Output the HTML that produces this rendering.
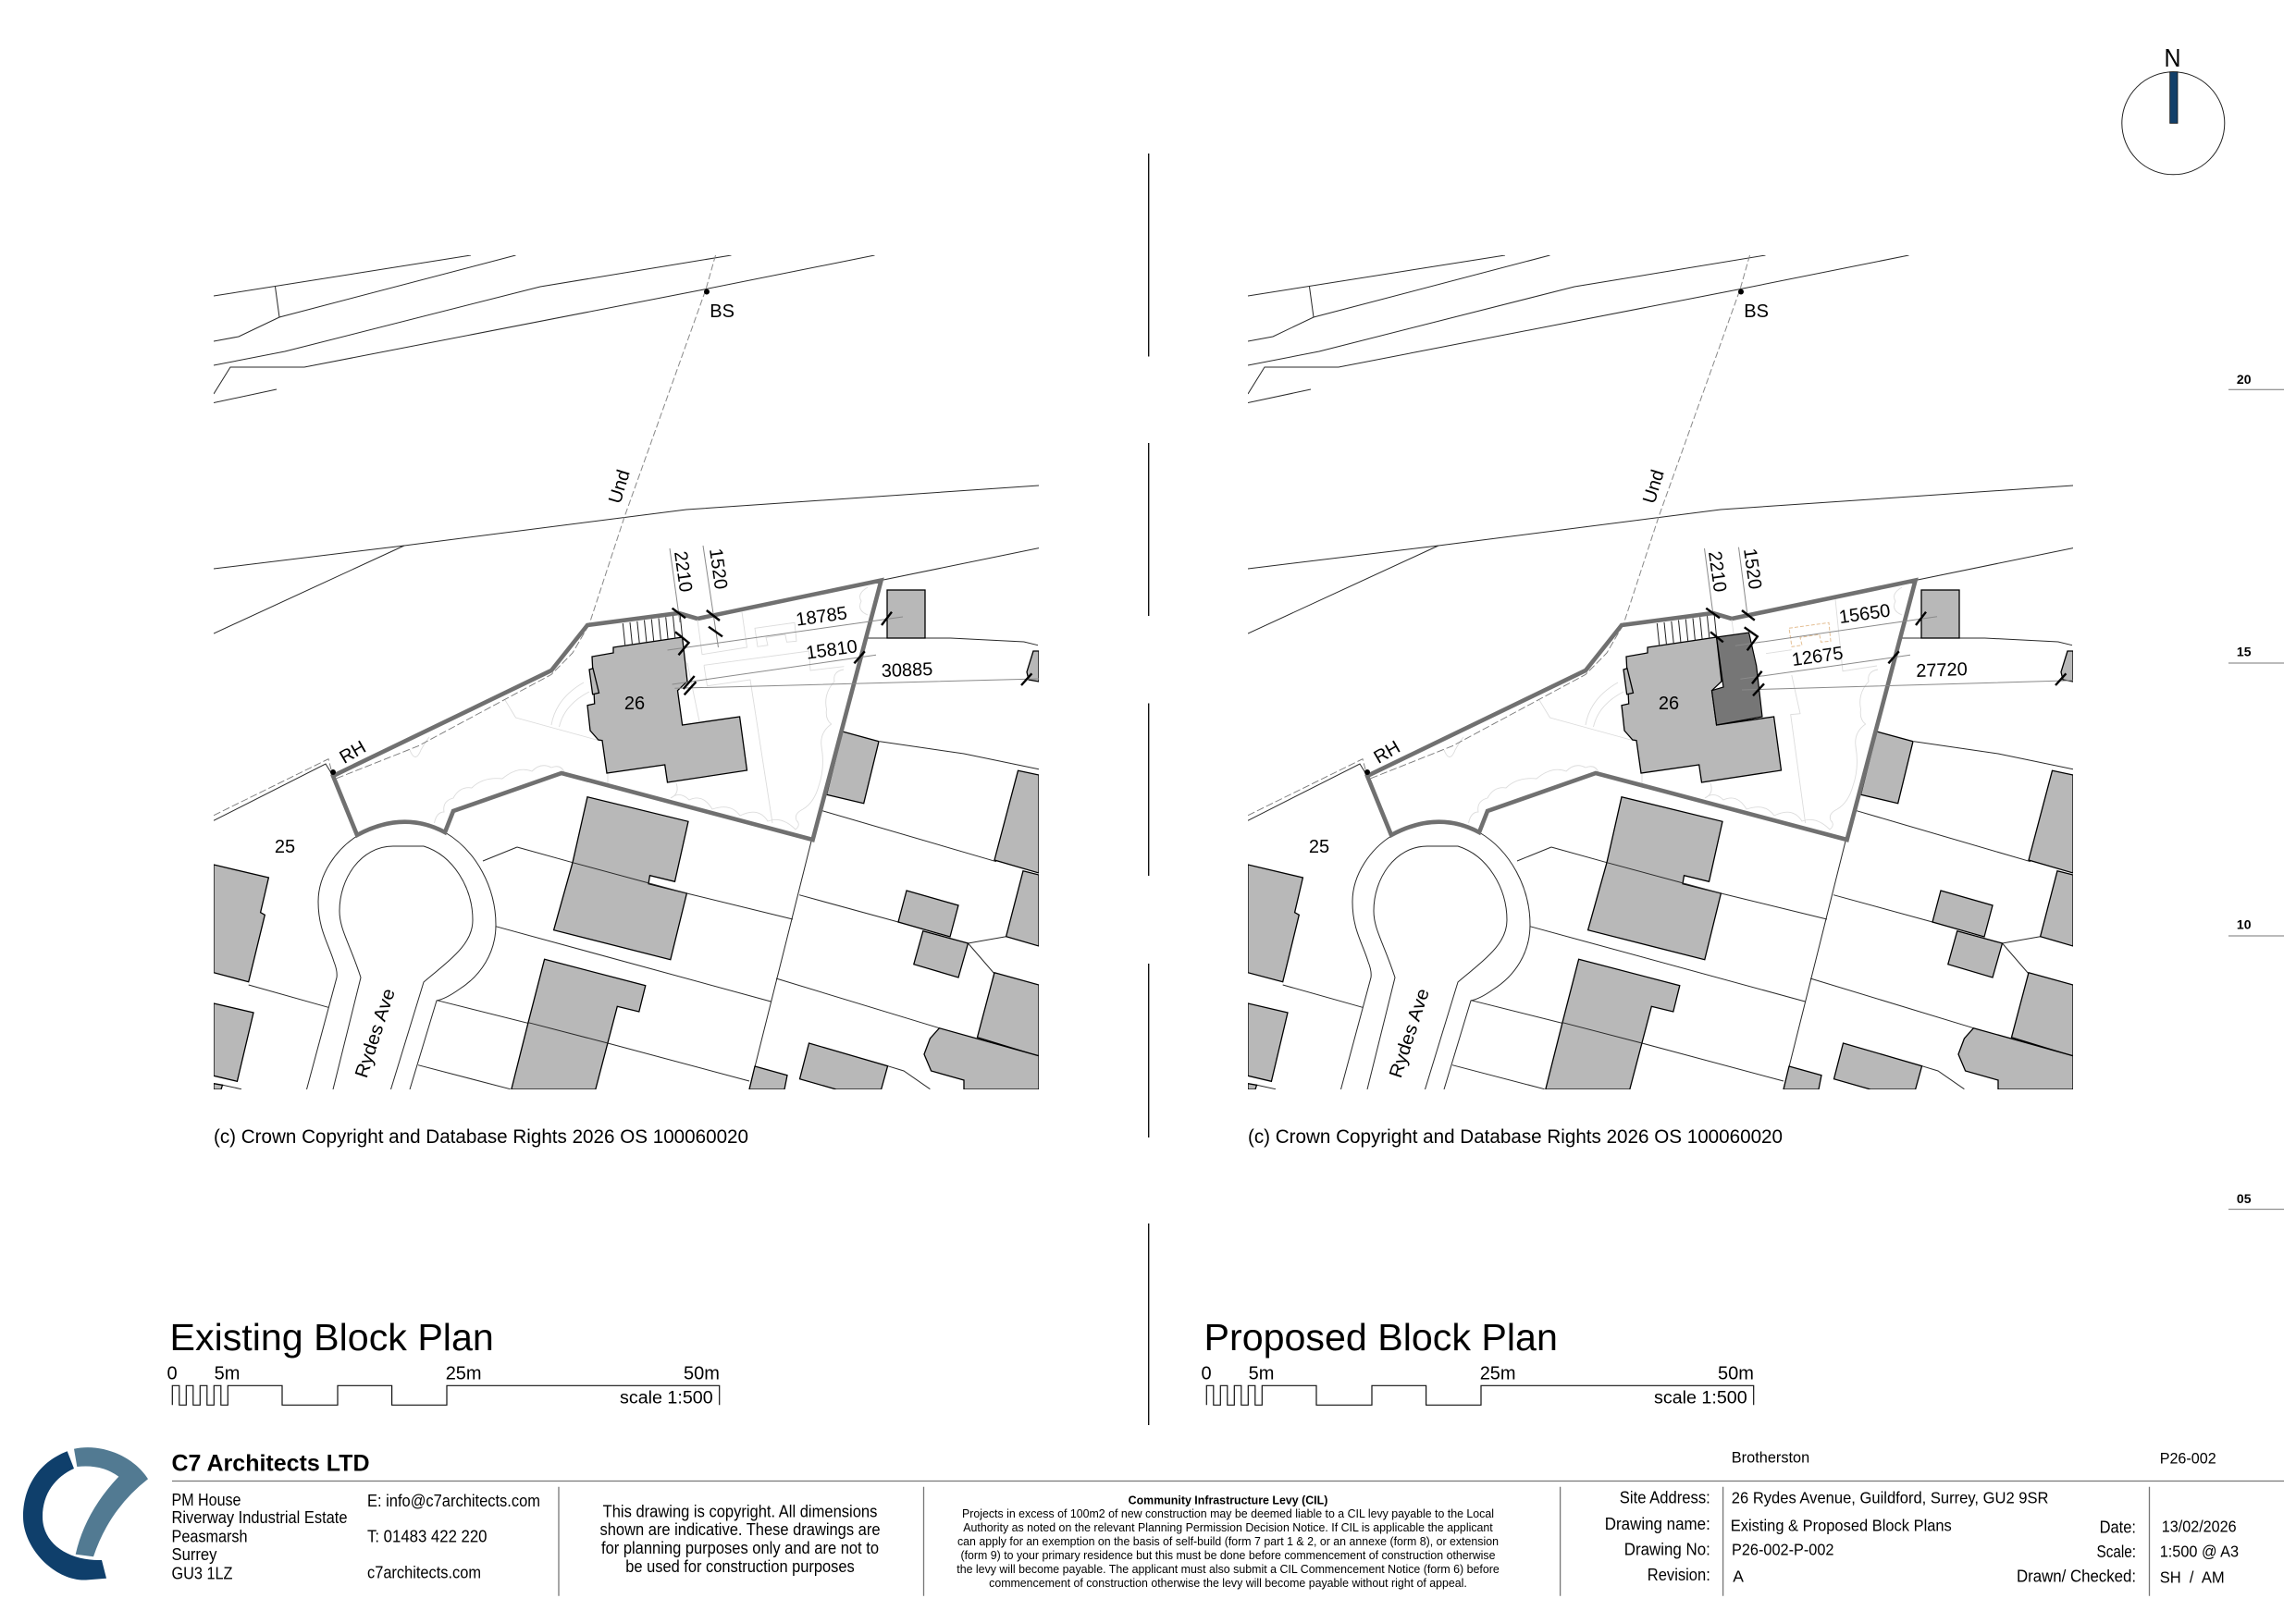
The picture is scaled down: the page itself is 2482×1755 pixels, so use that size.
<!DOCTYPE html>
<html><head><meta charset="utf-8"><title>Existing &amp; Proposed Block Plans</title>
<style>
html,body{margin:0;padding:0;background:#fff}
svg{display:block;position:absolute;left:0;top:0}
text{font-family:"Liberation Sans",Arial,sans-serif;fill:#000}
.th{fill:none;stroke:#2a2a2a;stroke-width:1}
.fa{fill:none;stroke:#dcdcdc;stroke-width:.9}
.bd{fill:#b8b8b8;stroke:#000;stroke-width:1.3}
.dim{fill:none;stroke:#8a8a8a;stroke-width:1}
.tk{fill:none;stroke:#000;stroke-width:2.4}
.m{font-size:20px;text-anchor:middle}
.rule{stroke:#777;stroke-width:1.3;fill:none}
</style></head><body>
<svg width="2482" height="1755" viewBox="0 0 2482 1755" xmlns="http://www.w3.org/2000/svg">
<rect width="2482" height="1755" fill="#fff"/>
<defs><clipPath id="mapclip"><rect x="231" y="276" width="892" height="902"/></clipPath></defs>

<g id="base"><g clip-path="url(#mapclip)">
 <path class="fa" d="M596,784Q601,755 631,738M604.5,786Q610,762 637,748M546,757L557.5,776L648.5,801M443,811Q449,826 455,811Q460,802 464,797"/>
 <path class="fa" d="M469.5,890Q472,878 480,878Q478,866 490,863Q497,850 510,852Q522,840 543,842Q560,828 575,834Q585,824 596,830Q606,826 610,835"/>
 <path class="fa" d="M657,835L657,848M731,847Q735,858 725,863Q735,855 745,865Q760,858 770,875Q790,868 800,882Q820,872 830,888Q845,882 860,897"/>
 <path class="fa" d="M938,635Q926,642 931,650Q926,660 938,665M912,724Q900,726 902,737Q890,750 893.5,767Q892,778 898.6,783Q886,792 888,807Q892,830 885,850Q880,868 868,875Q858,880 861,887Q866,892 860,897"/>
 <path class="fa" d="M743,717L756,780"/>
 <path class="th" d="M231,320L509,276M297.5,310L302,343M231,369L258,364L302,343L557.5,276M231,395L308,380L584,310L790.5,276M231,426L249,397L329,397L761,313L945.5,276M231,435.5L299,421"/>
 <path class="th" d="M231,615L437,590L742,551L1123,525M231,685L437,590M952.6,627.5L1123,592.6"/>
 <path fill="none" stroke="#888" stroke-width="1" stroke-dasharray="7 3" d="M773.5,276L763,313L675,559L637,675"/>
 <path fill="none" stroke="#777" stroke-width=".9" stroke-dasharray="8 3" d="M231,881.7L355,820.7L358,832M363.8,841.7L452,806.7L596,729.4L619,706L637,675"/>
 <path class="th" d="M231,887.3L352,826L360,839"/>
 <path class="th" d="M936.5,690L1027.6,690L1106.8,694L1122,697.7"/>
 <path class="th" d="M951,801.7L1042,815L1123,831.7M889,876.7L1077,931.7M864,967.7L971,997M1046.5,1020L1087.6,1012.7M1046.5,1020L1075,1053M959.6,1152.7L977,1158L1005.4,1177.7M877.4,908L810,1177.7M857,994L742.4,966M833.4,1083L535.8,1001.7M810,1169L657,1128L472.4,1081.7M839,1058L1015.4,1111.7M559,916L522,931M559,916L619,932.7M551.7,1177.7L452,1151.7M268.7,1065L355,1089.3M240.5,1173.3L261,1177.7M864.5,1166.7L904,1177.7"/>
 <path class="th" d="M386,904C364,918 344,945 344,975C344,1005 355,1020 361,1040Q365,1050 364,1057L331.5,1178"/>
 <path class="th" d="M481,900C515,920 536,960 536,1000C536,1030 520,1055 496,1070Q482,1080 472,1082L443,1178"/>
 <path class="th" d="M360,1178L390,1057C378,1020 367,1005 367,985C367,950 390,915 425,915L458,915C490,925 511,960 511,995C511,1020 490,1035 458,1062L422.5,1178"/>
 <path class="bd" d="M663,700L737.6,689L743,736.7L732.5,746.7L737.6,784L799.6,775L807.5,833L721.5,846L718.7,827L656,836L651,800.7L646.8,800L638,790L635,762.7L642.7,761L640,710L663,706Z"/>
 <path class="bd" d="M637,724L641,722.7L647.5,749.3L640.6,750.7Z"/>
 <rect class="bd" x="959" y="638" width="41" height="52"/>
 <path class="bd" d="M1117,704L1110,726.7L1112,735L1123,737L1123,704Z"/>
 <path class="bd" d="M910.7,791L950,801.7L933.7,868.7L893.5,859.3Z"/>
 <path class="bd" d="M1100.5,833.3L1123,838L1123,944L1075,930Z"/>
 <path class="bd" d="M1106,941.7L1123,946L1123,1023L1087.6,1012.7Z"/>
 <path class="bd" d="M980,963L1036,979L1027,1013L971,997Z"/>
 <path class="bd" d="M997.8,1006.7L1046.5,1020L1036,1057L987.8,1042.7Z"/>
 <path class="bd" d="M1075,1051.7L1123,1065L1123,1142L1056.5,1121.7Z"/>
 <path class="bd" d="M1015.4,1111.7L1123,1141.7L1123,1178L1042,1178L1042,1168L1006.6,1158L999,1140L1005.4,1123Z"/>
 <path class="bd" d="M874.5,1128L959.6,1152.7L952.6,1178L904,1178L864.5,1166.7Z"/>
 <path class="bd" d="M816,1153L851,1162.7L848,1178L810,1178Z"/>
 <path class="bd" d="M635,861.7L744,888.3L729.5,953.3L702.5,946.7L701,955.7L742.4,966L724.8,1037.7L598.6,1005.7L619,932.7Z"/>
 <path class="th" d="M619,932.7L742.4,966"/>
 <path class="bd" d="M588.6,1037.3L697.8,1065.7L690.8,1094L667.3,1088.3L643.8,1178L552.8,1178L571,1105.7Z"/>
 <path class="th" d="M571,1105.7L657,1128"/>
 <path class="bd" d="M231,935L290.4,949L281.6,986.7L286.3,989.3L268.7,1061.7L231,1051.7Z"/>
 <path class="bd" d="M231,1085L274,1095L256.4,1169.3L231,1163.3Z"/>
 <path class="bd" d="M231,1171.7L240.5,1173.3L239,1178L231,1178Z"/>
 <path fill="none" stroke="#222" stroke-width="1" d="M673.3,674L675.7,697.3M681,672.9L683.4,696.3M688.8,671.8L691.2,695.3M696.5,670.6L698.9,694.3M704.3,669.5L706.7,693.3M712,668.4L714.4,692.3M719.7,667.3L722.1,691.3M727.5,666.1L729.9,690.3M735.2,665L737.6,689"/>
 <path fill="none" stroke="#707070" stroke-width="4.6" stroke-linejoin="miter" d="M635,676L733.6,663L754,669L952.6,627.5L878.6,908L607,836L490,877L481,900Q436,876 386,903L360,839L596,725Z"/>
 <circle cx="764" cy="315.5" r="3" fill="#000"/>
 <circle cx="360" cy="835" r="3" fill="#000"/>
</g></g>
<use href="#base" x="1118"/>

<g>
 <path class="fa" d="M754,670L759,707.7L807.5,700L802,661.7M816,679.3L859,673.3L861,693.3L850.5,694.3L848.8,686L828,689.3L830,697.7L819,699.3ZM761,719.3L874.6,704L876,725L912.4,720.7M761,719.3L764.5,741.7L811,735L835,890"/>
 <path class="dim" d="M724,593L735,673M760,590L776.5,700M721.5,703L976,667M726.6,740L947,708.3M729.4,744.3L1123,734"/>
 <path class="tk" d="M726.6,657.7L741,668.3M763.8,660L778,671M766,677.7L781,688.3M730,683.3L744.5,695L733.5,708.3M750.7,731L738.7,745M752.4,737.3L739.7,751.3M964,661.7L953,676M934.8,704.3L923.4,717.3M1115.4,728.3L1104,741"/>
 <text class="m" transform="translate(780.6,336)" dy=".35em">BS</text>
 <text class="m" transform="translate(669,526) rotate(-73)" dy=".35em">Und</text>
 <text class="m" transform="translate(381,813) rotate(-30)" dy=".35em">RH</text>
 <text class="m" transform="translate(308,915)" dy=".35em">25</text>
 <text class="m" transform="translate(686,760)" dy=".35em">26</text>
 <text class="m" transform="translate(405,1117) rotate(-72)" dy=".35em" textLength="100" lengthAdjust="spacingAndGlyphs">Rydes Ave</text>
 <text class="m" transform="translate(888,666) rotate(-8)" dy=".35em">18785</text>
 <text class="m" transform="translate(899,702) rotate(-8)" dy=".35em">15810</text>
 <text class="m" transform="translate(980.5,724) rotate(-2)" dy=".35em">30885</text>
 <text class="m" transform="translate(739,618) rotate(82)" dy=".35em">2210</text>
 <text class="m" transform="translate(777,615) rotate(82)" dy=".35em">1520</text>
</g>

<g transform="translate(1118,0)">
 <path class="fa" d="M754,670L759,707.7M791,706.7L818.8,702.7M866,648L874,725.7L911,720M818.8,730L828,771.7L817.7,772.7L833.6,890"/>
 <path fill="none" stroke="#e4bf94" stroke-width="1" stroke-dasharray="4 2" d="M816,679.3L859,673.3L861,693.3L850.5,694.3L848.8,686L828,689.3L830,697.7L819,699.3Z"/>
 <path fill="#767676" stroke="#000" stroke-width="1.2" d="M737.6,689L772.6,684L780.7,720L787,775L737.6,784L732.5,746.7L745,743Z"/>
 <path class="dim" d="M724.5,593L733.7,663M761.5,591.7L770.7,663M757.8,698.3L976,666.7M763.3,734.3L947,708.3M765,746L1123,735.8"/>
 <path class="tk" d="M726.3,657.7L741,668.3M765,660L778.8,670.7M767.7,678.3L781.8,688.3L770.7,703.3M731,683.3L744.8,694.3M786.6,725.7L776,739.3M789,739.3L777,752.3M964,661.7L953,676M934.8,704.3L923.4,717.3M1115.4,728.3L1104,741"/>
 <text class="m" transform="translate(780.6,336)" dy=".35em">BS</text>
 <text class="m" transform="translate(669,526) rotate(-73)" dy=".35em">Und</text>
 <text class="m" transform="translate(381,813) rotate(-30)" dy=".35em">RH</text>
 <text class="m" transform="translate(308,915)" dy=".35em">25</text>
 <text class="m" transform="translate(686,760)" dy=".35em">26</text>
 <text class="m" transform="translate(405,1117) rotate(-72)" dy=".35em" textLength="100" lengthAdjust="spacingAndGlyphs">Rydes Ave</text>
 <text class="m" transform="translate(897.6,663.3) rotate(-8)" dy=".35em">15650</text>
 <text class="m" transform="translate(846.6,709.3) rotate(-8)" dy=".35em">12675</text>
 <text class="m" transform="translate(981,724) rotate(-2)" dy=".35em">27720</text>
 <text class="m" transform="translate(739,618) rotate(82)" dy=".35em">2210</text>
 <text class="m" transform="translate(777,615) rotate(82)" dy=".35em">1520</text>
</g>

<text x="231" y="1236" font-size="21.3" textLength="578" lengthAdjust="spacingAndGlyphs">(c) Crown Copyright and Database Rights 2026 OS 100060020</text>
<text x="1349" y="1236" font-size="21.3" textLength="578" lengthAdjust="spacingAndGlyphs">(c) Crown Copyright and Database Rights 2026 OS 100060020</text>

<path stroke="#111" stroke-width="1.4" fill="none" d="M1241.7,166V385.5M1241.7,479V666M1241.7,760.5V947M1241.7,1042V1230M1241.7,1323V1541"/>

<text x="183.5" y="1460" font-size="41.2">Existing Block Plan</text>
<text x="1301.5" y="1460" font-size="41.2">Proposed Block Plan</text>
<g id="sb">
 <path fill="none" stroke="#111" stroke-width="1.2" d="M186.3,1519.3V1498.3H193.8V1519.3H201.3V1498.3H208.8V1519.3H216.3V1498.3H223.8V1519.3H231.3V1498.3H238.8V1519.3H246.3V1498.3H305V1519.3H365V1498.3H423.6V1519.3H483V1498.3H777.7V1519.3"/>
 <text x="186" y="1491.7" font-size="20" text-anchor="middle">0</text>
 <text x="231.6" y="1491.7" font-size="20">5m</text>
 <text x="481.7" y="1491.7" font-size="20">25m</text>
 <text x="739" y="1491.7" font-size="20">50m</text>
 <text x="670" y="1517.7" font-size="19.7">scale 1:500</text>
</g>
<use href="#sb" x="1118"/>

<circle cx="2349.3" cy="133.3" r="55.5" fill="#fff" stroke="#222" stroke-width="1"/>
<rect x="2345.7" y="77.7" width="8.3" height="55.6" fill="#123f69" stroke="#111" stroke-width=".8"/>
<text x="2339.5" y="72" font-size="28" textLength="18" lengthAdjust="spacingAndGlyphs">N</text>

<g font-size="14" font-weight="bold" text-anchor="middle">
 <text x="2425.7" y="415">20</text><text x="2425.7" y="709.5">15</text><text x="2425.7" y="1004.5">10</text><text x="2425.7" y="1301">05</text>
</g>
<path stroke="#777" stroke-width="1" fill="none" d="M2409,421.3H2469M2409,717H2469M2409,1012H2469M2409,1307.6H2469"/>

<path fill="#0f3f6b" d="M72.7,1569.3C40,1582 25,1610 25,1640C25,1675 60,1710 93,1708.5L115,1706.7L110,1687C75,1688 46,1670 46,1640C46,1615 60,1597 80,1588Z"/>
<path fill="#527a92" d="M80,1566.7C110,1560 145,1575 160,1599.3Q118,1632 101,1683.3L81.7,1680.7Q92,1635 128.3,1596.7Q110,1583 83.3,1586Z"/>

<text x="185.5" y="1590.7" font-size="24.6" font-weight="bold" textLength="214" lengthAdjust="spacingAndGlyphs">C7 Architects LTD</text>
<path class="rule" d="M186,1601.5H2469"/>
<path class="rule" d="M604,1607.7V1725.7M998.5,1607.7V1725.7M1686.6,1607.7V1725.7M1862.6,1607.7V1725.7M2323.5,1607.7V1725.7"/>
<g font-size="18">
 <text x="185.5" y="1628" textLength="75" lengthAdjust="spacingAndGlyphs">PM House</text>
 <text x="185.5" y="1647" textLength="190" lengthAdjust="spacingAndGlyphs">Riverway Industrial Estate</text>
 <text x="185.5" y="1667.5" textLength="82" lengthAdjust="spacingAndGlyphs">Peasmarsh</text>
 <text x="185.5" y="1687" textLength="49" lengthAdjust="spacingAndGlyphs">Surrey</text>
 <text x="185.5" y="1707.5" textLength="66" lengthAdjust="spacingAndGlyphs">GU3 1LZ</text>
 <text x="397" y="1629" textLength="187" lengthAdjust="spacingAndGlyphs">E: info@c7architects.com</text>
 <text x="397" y="1667.7" textLength="129.5" lengthAdjust="spacingAndGlyphs">T: 01483 422 220</text>
 <text x="397" y="1706.7" textLength="123" lengthAdjust="spacingAndGlyphs">c7architects.com</text>
 <g text-anchor="middle">
  <text x="800" y="1640.7" textLength="296.7" lengthAdjust="spacingAndGlyphs">This drawing is copyright. All dimensions</text>
  <text x="800" y="1660" textLength="303" lengthAdjust="spacingAndGlyphs">shown are indicative. These drawings are</text>
  <text x="800" y="1680" textLength="300" lengthAdjust="spacingAndGlyphs">for planning purposes only and are not to</text>
  <text x="800" y="1700" textLength="247.5" lengthAdjust="spacingAndGlyphs">be used for construction purposes</text>
 </g>
</g>
<g font-size="13" text-anchor="middle">
 <text x="1327.5" y="1626.7" font-weight="bold" textLength="215.7" lengthAdjust="spacingAndGlyphs">Community Infrastructure Levy (CIL)</text>
 <text x="1327.5" y="1641" textLength="575" lengthAdjust="spacingAndGlyphs">Projects in excess of 100m2 of new construction may be deemed liable to a CIL levy payable to the Local</text>
 <text x="1327.5" y="1656" textLength="572.5" lengthAdjust="spacingAndGlyphs">Authority as noted on the relevant Planning Permission Decision Notice. If CIL is applicable the applicant</text>
 <text x="1327.5" y="1671" textLength="585" lengthAdjust="spacingAndGlyphs">can apply for an exemption on the basis of self-build (form 7 part 1 &amp; 2, or an annexe (form 8), or extension</text>
 <text x="1327.5" y="1686" textLength="578" lengthAdjust="spacingAndGlyphs">(form 9) to your primary residence but this must be done before commencement of construction otherwise</text>
 <text x="1327.5" y="1701" textLength="586.5" lengthAdjust="spacingAndGlyphs">the levy will become payable. The applicant must also submit a CIL Commencement Notice (form 6) before</text>
 <text x="1327.5" y="1716" textLength="516.7" lengthAdjust="spacingAndGlyphs">commencement of construction otherwise the levy will become payable without right of appeal.</text>
</g>
<g font-size="16.5">
 <text x="1871.8" y="1581.7" textLength="84.4" lengthAdjust="spacingAndGlyphs">Brotherston</text>
 <text x="2334.7" y="1582.7" textLength="61" lengthAdjust="spacingAndGlyphs">P26-002</text>
</g>
<g font-size="18" text-anchor="end">
 <text x="1848.8" y="1625.7" textLength="98" lengthAdjust="spacingAndGlyphs">Site Address:</text>
 <text x="1848.8" y="1654" textLength="114" lengthAdjust="spacingAndGlyphs">Drawing name:</text>
 <text x="1848.8" y="1681.7" textLength="93" lengthAdjust="spacingAndGlyphs">Drawing No:</text>
 <text x="1848.8" y="1709" textLength="68" lengthAdjust="spacingAndGlyphs">Revision:</text>
 <text x="2309" y="1657.7" textLength="39.4" lengthAdjust="spacingAndGlyphs">Date:</text>
 <text x="2309" y="1684" textLength="42.5" lengthAdjust="spacingAndGlyphs">Scale:</text>
 <text x="2309" y="1710.7" textLength="129" lengthAdjust="spacingAndGlyphs">Drawn/ Checked:</text>
</g>
<g font-size="17.5">
 <text x="1871.8" y="1625.7" textLength="342.7" lengthAdjust="spacingAndGlyphs">26 Rydes Avenue, Guildford, Surrey, GU2 9SR</text>
 <text x="1870.8" y="1655.7" textLength="239" lengthAdjust="spacingAndGlyphs">Existing &amp; Proposed Block Plans</text>
 <text x="1872" y="1681.7" textLength="110.5" lengthAdjust="spacingAndGlyphs">P26-002-P-002</text>
 <text x="1873.3" y="1710.7">A</text>
 <text x="2336.8" y="1656.7" textLength="80.8" lengthAdjust="spacingAndGlyphs">13/02/2026</text>
 <text x="2334.7" y="1683.3" textLength="85.4" lengthAdjust="spacingAndGlyphs">1:500 @ A3</text>
 <text x="2334.7" y="1711.7" textLength="70" lengthAdjust="spacingAndGlyphs" xml:space="preserve">SH  /  AM</text>
</g>
</svg>
</body></html>
